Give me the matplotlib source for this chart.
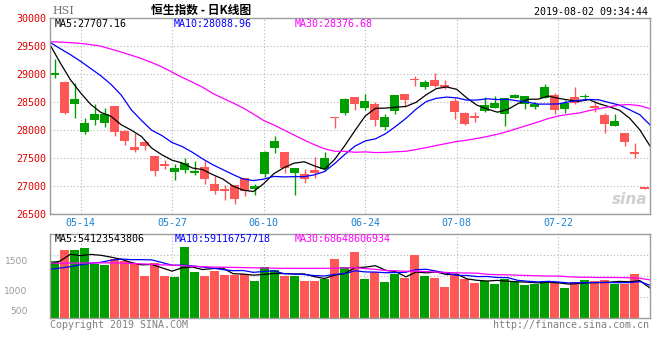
import numpy as np
import pandas as pd
import matplotlib
matplotlib.use('Agg')
import matplotlib.pyplot as plt

# trading days shown (May 8 .. Aug 2, 2019)
dates = ['05-08', '05-09', '05-10', '05-14', '05-15', '05-16', '05-17', '05-20', '05-21', '05-22',
         '05-23', '05-24', '05-27', '05-28', '05-29', '05-30', '05-31', '06-03', '06-04', '06-05',
         '06-06', '06-10', '06-11', '06-12', '06-13', '06-14', '06-17', '06-18', '06-19', '06-20',
         '06-21', '06-24', '06-25', '06-26', '06-27', '06-28', '07-02', '07-03', '07-04', '07-05',
         '07-08', '07-09', '07-10', '07-11', '07-12', '07-15', '07-16', '07-17', '07-18', '07-19',
         '07-22', '07-23', '07-24', '07-25', '07-26', '07-29', '07-30', '07-31', '08-01', '08-02']
tick_dates = ['05-14', '05-27', '06-10', '06-24', '07-08', '07-22']

opens = [28985, 28850, 28460, 27957, 28170, 28117, 28436, 27975, 27692, 27780,
         27532, 27384, 27248, 27284, 27225, 27331, 27036, 26930, 27012, 27136,
         26947, 27213, 27680, 27615, 27230, 27207, 27278, 27307, 28235, 28312,
         28590, 28395, 28466, 28046, 28347, 28643, 28909, 28767, 28891, 28791,
         28519, 28306, 28253, 28347, 28395, 28288, 28578, 28460, 28407, 28578,
         28625, 28383, 28590, 28584, 28407, 28271, 28064, 27952, 27603, 26976]
closes = [29010, 28306, 28554, 28129, 28288, 28294, 27957, 27798, 27650, 27715,
          27266, 27360, 27313, 27402, 27266, 27124, 26911, 26915, 26770, 26911,
          27000, 27603, 27810, 27313, 27313, 27124, 27236, 27502, 28210, 28548,
          28472, 28519, 28182, 28235, 28625, 28543, 28890, 28856, 28785, 28770,
          28330, 28111, 28212, 28448, 28489, 28572, 28625, 28608, 28460, 28767,
          28365, 28478, 28489, 28613, 28395, 28099, 28164, 27780, 27578, 26950]
highs = [29275, 28880, 28832, 28212, 28460, 28389, 28436, 28005, 27946, 27827,
         27544, 27473, 27384, 27502, 27455, 27443, 27171, 27018, 27012, 27136,
         27041, 27621, 27887, 27615, 27313, 27296, 27520, 27603, 28235, 28572,
         28590, 28643, 28495, 28288, 28625, 28643, 28962, 28891, 29021, 28891,
         28566, 28324, 28330, 28596, 28613, 28572, 28649, 28608, 28495, 28820,
         28661, 28531, 28767, 28649, 28495, 28312, 28288, 27952, 27774, 26976]
lows = [28933, 28282, 28206, 27928, 28093, 28046, 27898, 27727, 27609, 27644,
        27177, 27296, 27107, 27237, 27195, 27036, 26852, 26746, 26675, 26817,
        26840, 27160, 27585, 27230, 26840, 27059, 27136, 27266, 28034, 28259,
        28359, 28359, 28064, 27993, 28288, 28413, 28779, 28726, 28767, 28732,
        28194, 28082, 28141, 28330, 28389, 28064, 28566, 28383, 28377, 28566,
        28294, 28312, 28472, 28537, 28330, 27940, 28064, 27709, 27502, 26947]
# volume, in units of 1e8
volumes = [1029, 1225, 1225, 1255, 970, 952, 1059, 1029, 970, 761,
           988, 761, 732, 1273, 827, 761, 850, 773, 773, 791,
           666, 911, 863, 761, 761, 666, 666, 702, 1059, 911,
           1190, 702, 833, 648, 791, 726, 1131, 761, 726, 559,
           773, 702, 630, 666, 612, 702, 648, 595, 606, 666,
           648, 541, 648, 684, 666, 684, 612, 612, 791, 8]

# moving average values before enough days are inside the window
ma5_head = [29524, 29200, 28900, 28665]
ma10_head = [29565, 29453, 29346, 29228, 29098, 28968, 28814, 28625, 28359]
ma30_head = [29577, 29570, 29560, 29547, 29525, 29497, 29445, 29393, 29335, 29275,
             29205, 29128, 29033, 28939, 28855, 28764, 28654, 28567, 28483, 28393,
             28285, 28170, 28091, 28000, 27910, 27820, 27737, 27665, 27620]
vma5_head = [964, 1024, 1143, 1119]
vma10_head = [875, 898, 922, 957, 982, 1000, 1036, 1059, 1047]
vma30_head = [985, 985, 987, 987, 987, 990, 990, 985, 980, 972,
              965, 955, 948, 940, 928, 922, 915, 912, 908, 905,
              902, 898, 895, 893, 892, 892, 892, 893, 895]

price_ma_text = ['MA5:27707.16', 'MA10:28088.96', 'MA30:28376.68']
vol_ma_text = ['MA5:54123543806', 'MA10:59116757718', 'MA30:68648606934']
vol_labels = ['1500', '1000', '500']


def moving_avg(values, n, head):
    ma = pd.Series(values, dtype=float).rolling(n).mean().to_numpy()
    ma[:n - 1] = head
    return ma


UP, DOWN = '#009e00', '#ff5656'
MA_COLORS = ['black', '#0000ff', '#ff00ff']
GRID = '#b4b4b4'
MONO = 'DejaVu Sans Mono'
W, H = 660, 360


def rect(x0, y0, x1, y1):
    return [x0 / W, 1 - y1 / H, (x1 - x0) / W, (y1 - y0) / H]


n = len(closes)
x = np.arange(n)
xlim = (-0.45, n - 0.45)
line_x = np.linspace(xlim[0], xlim[1], n)
tick_pos = [line_x[dates.index(d)] for d in tick_dates]
o, c = np.array(opens), np.array(closes)
colors = [UP if cc >= oo else DOWN for oo, cc in zip(o, c)]

fig = plt.figure(figsize=(6.6, 3.6), dpi=100)
ax = fig.add_axes(rect(50, 18, 650, 214))
axv = fig.add_axes(rect(50, 234.3, 650, 318.3))

# price panel
ax.vlines(x, lows, highs, colors=colors, lw=1.0)
ax.bar(x, np.maximum(np.abs(c - o), 25), bottom=np.minimum(o, c), width=0.86,
       color=colors, linewidth=0)
for win, head, col in zip([5, 10, 30], [ma5_head, ma10_head, ma30_head], MA_COLORS):
    ax.plot(line_x, moving_avg(closes, win, head), color=col, lw=0.9)

ax.set_xlim(*xlim)
ax.set_ylim(26500, 30000)
ax.set_yticks(range(26500, 30001, 500))
ax.set_xticks(tick_pos)
ax.set_xticklabels(tick_dates)
ax.tick_params(axis='y', length=0, pad=2.5, labelcolor='#e00000', labelsize=7.2)
ax.tick_params(axis='x', length=0, pad=3, labelcolor='#1a80d4', labelsize=7.2)
for lab in ax.get_xticklabels() + ax.get_yticklabels():
    lab.set_family(MONO)
ax.grid(True, ls=(0, (1, 2)), color=GRID, lw=0.8)
ax.set_axisbelow(True)
ax.text(0.995, 0.075, 'sina', transform=ax.transAxes, ha='right', va='center',
        fontsize=11, fontweight='bold', style='italic', color='#cfcfcf')

# volume panel
axv.bar(x, volumes, width=0.9, color=colors, linewidth=0)
for win, head, col in zip([5, 10, 30], [vma5_head, vma10_head, vma30_head], MA_COLORS):
    axv.plot(line_x, moving_avg(volumes, win, head), color=col, lw=0.9)
axv.set_xlim(*xlim)
axv.set_ylim(0, 1500)
axv.set_xticks(tick_pos)
axv.set_xticklabels([])
axv.set_yticks([1040, 490, 140])
axv.set_yticklabels(vol_labels)
axv.set_yticks([375, 750, 1125], minor=True)
axv.tick_params(axis='both', which='both', length=0)
axv.tick_params(axis='y', pad=16, labelcolor='#9a9a9a', labelsize=6.6)
axv.grid(False)
axv.grid(True, axis='x', ls=(0, (1, 2)), color=GRID, lw=0.8)
axv.grid(True, axis='y', which='minor', ls=(0, (1, 2)), color=GRID, lw=0.8)
axv.set_axisbelow(True)

for a in (ax, axv):
    for sp in a.spines.values():
        sp.set_color('#9c9c9c')
        sp.set_linewidth(1.0)

# header / footer texts
for txt, xp, col in zip(price_ma_text, [55, 174, 295], MA_COLORS):
    fig.text(xp / W, 1 - 24 / H, txt, color=col, family=MONO, fontsize=7.2, va='center')
for txt, xp, col in zip(vol_ma_text, [55, 175, 295], MA_COLORS):
    fig.text(xp / W, 1 - 239.5 / H, txt, color=col, family=MONO, fontsize=7.2, va='center')

fig.text(52 / W, 1 - 11.5 / H, 'HSI', family='DejaVu Serif', color='#707070', fontsize=8, va='center')
fig.text(201 / W, 1 - 10.5 / H, '恒生指数 - 日K线图', family=['Noto Sans CJK SC', 'DejaVu Sans'],
         fontsize=8.5, fontweight='bold', ha='center', va='center', color='black')
fig.text(648 / W, 1 - 12 / H, '2019-08-02 09:34:44', family=MONO, fontsize=7.2,
         ha='right', va='center', color='black')
fig.text(50 / W, 1 - 324.5 / H, 'Copyright 2019 SINA.COM', family=MONO, fontsize=7.2,
         va='center', color='#808080')
fig.text(649 / W, 1 - 324.5 / H, 'http://finance.sina.com.cn', family=MONO, fontsize=7.2,
         ha='right', va='center', color='#808080')

fig.savefig('out.png', dpi=100, facecolor='white')
